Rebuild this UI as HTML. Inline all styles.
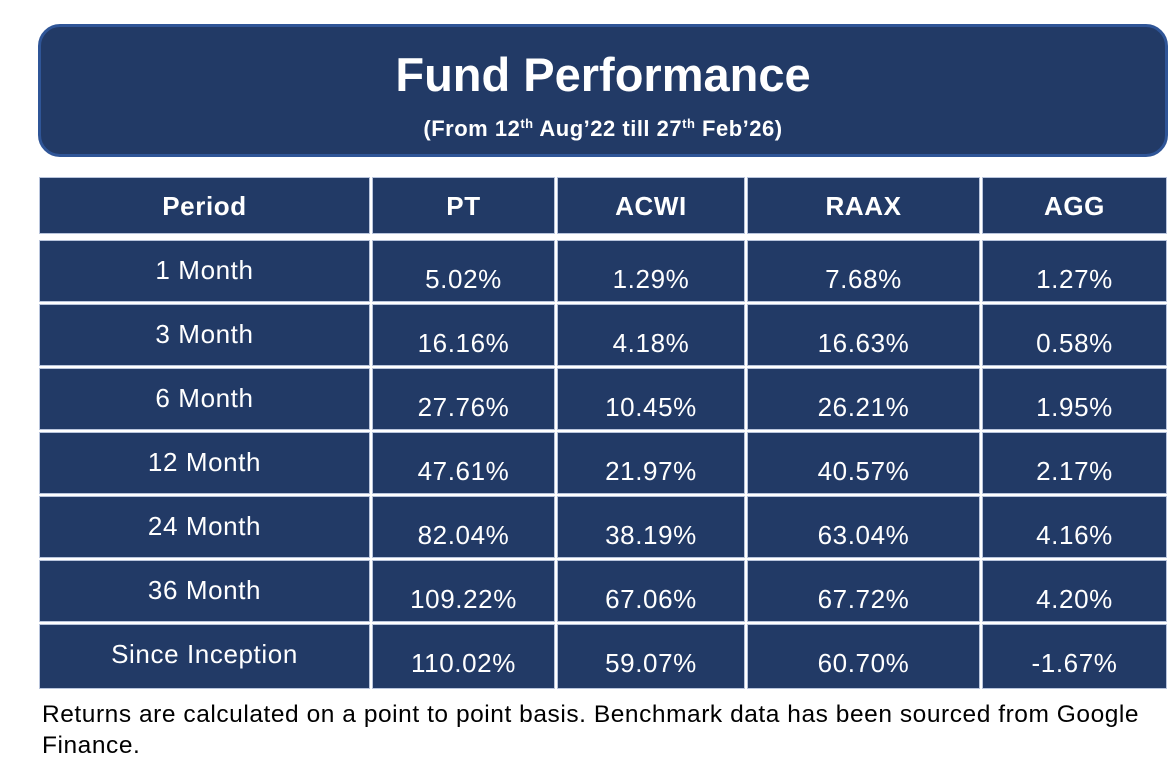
<!DOCTYPE html>
<html><head><style>
body{margin:0;width:1170px;height:761px;background:#fff;position:relative;overflow:hidden;font-family:"Liberation Sans",sans-serif}
.box{position:absolute;left:38px;top:24px;width:1124px;height:127px;background:#223a66;border:3px solid #2f5597;border-radius:22px;color:#fff;text-align:center}
.t{position:absolute;left:0;right:0;top:20px;font-size:47px;font-weight:bold;letter-spacing:0px}
.s{position:absolute;left:0;right:0;top:89px;font-size:22px;font-weight:bold;letter-spacing:0.5px}
sup{font-size:13px;vertical-align:8px}
.c{position:absolute;background:#223a66;color:#fff;font-size:26px;letter-spacing:0.6px;text-align:center;box-shadow:0 0 0 1px #b8c4dc;box-sizing:border-box}
.h{font-weight:bold}
.f{position:absolute;left:42px;font-size:24.5px;letter-spacing:0.55px;color:#000;white-space:nowrap}
</style></head><body>
<div class="box"><div class="t">Fund Performance</div><div class="s">(From 12<sup>th</sup> Aug’22 till 27<sup>th</sup> Feb’26)</div></div>
<div id="tb"></div>
<div class="f" style="top:701px">Returns are calculated on a point to point basis. Benchmark data has been sourced from Google</div>
<div class="f" style="top:732px">Finance.</div>
<script>
(function(){
var cols=[[40,369],[373,554],[558,744],[748,979],[983,1166]];
var rows=[["Period","PT","ACWI","RAAX","AGG"],["1 Month","5.02%","1.29%","7.68%","1.27%"],["3 Month","16.16%","4.18%","16.63%","0.58%"],["6 Month","27.76%","10.45%","26.21%","1.95%"],["12 Month","47.61%","21.97%","40.57%","2.17%"],["24 Month","82.04%","38.19%","63.04%","4.16%"],["36 Month","109.22%","67.06%","67.72%","4.20%"],["Since Inception","110.02%","59.07%","60.70%","-1.67%"]];
var h='';
for(var r=0;r<rows.length;r++){
 var y=r==0?178:241+(r-1)*64, ht=r==0?55:(r==7?63:60);
 for(var c=0;c<5;c++){
  var pt=r==0?13:(c==0?14:23);
  h+='<div class="c'+(r==0?' h':'')+'" style="left:'+cols[c][0]+'px;top:'+y+'px;width:'+(cols[c][1]-cols[c][0])+'px;height:'+ht+'px;padding-top:'+pt+'px">'+rows[r][c]+'</div>';
 }
}
document.getElementById('tb').innerHTML=h;
})();
</script>
</body></html>
